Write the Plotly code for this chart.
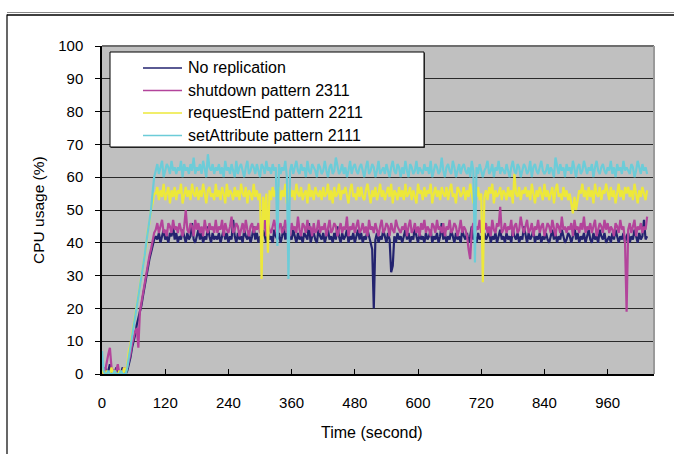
import plotly.graph_objects as go

# ---------------- data ----------------
TIME = list(range(0, 1038, 3))  # seconds, one sample every 3 s (346 samples)

SERIES_NAMES = ["No replication", "shutdown pattern 2311",
                "requestEnd pattern 2211", "setAttribute pattern 2111"]
SERIES_COLORS = ["#23236F", "#B3449B", "#EDE83A", "#6CCCD8"]

NO_REPLICATION = [
    1, 0, 2, 0, 1, 3, 0, 1, 0, 2, 0, 1, 0, 2, 1, 0,
    1, 3, 5, 8, 10, 12, 15, 17, 19, 21, 24, 27, 30, 33, 35, 37, 39, 41,
    42, 41, 43, 40, 42, 44, 41, 42, 40, 43, 42, 45, 41,
    43, 40, 42, 41, 44, 42, 40, 43, 41, 42, 46, 41, 40,
    42, 44, 41, 43, 40, 42, 41, 45, 42, 40, 43, 41, 42,
    41, 43, 40, 42, 44, 41, 43, 40, 42, 41, 47, 42, 40,
    43, 41, 42, 40, 44, 42, 41, 43, 40, 42, 45, 41, 43,
    40, 42, 41, 44, 42, 40, 43, 41, 42, 40, 44, 42, 41,
    43, 40, 42, 45, 41, 43, 40, 42, 41, 44, 42, 40, 43,
    41, 42, 40, 43, 42, 41, 46, 40, 42, 43, 41, 40, 44,
    42, 41, 43, 40, 42, 44, 41, 42, 40, 43, 41, 45, 42,
    40, 43, 41, 42, 44, 40, 42, 41, 43, 40, 42, 44, 41,
    43, 40, 42, 41, 44, 42, 40, 38, 20, 41, 43, 40, 42,
    41, 44, 42, 40, 43, 41, 31, 33, 42, 40, 43, 41, 42,
    40, 42, 44, 41, 43, 40, 42, 41, 45, 42, 40, 43, 41,
    42, 40, 43, 41, 42, 44, 40, 42, 41, 43, 40, 42, 46,
    41, 43, 40, 42, 41, 44, 42, 40, 43, 41, 42, 40, 44,
    42, 41, 43, 40, 42, 45, 41, 42, 40, 43, 41, 42, 40,
    43, 41, 42, 44, 40, 42, 41, 43, 40, 42, 44, 41, 42,
    40, 43, 41, 42, 40, 44, 42, 41, 43, 40, 42, 41, 45,
    42, 40, 43, 41, 42, 44, 40, 42, 41, 43, 40, 42, 41,
    43, 41, 40, 42, 44, 41, 43, 40, 42, 41, 44, 42, 40,
    41, 43, 42, 40, 42, 45, 41, 43, 40, 42, 41, 43, 40,
    42, 44, 41, 40, 43, 41, 42, 40, 44, 42, 41, 43, 40,
    41, 42, 40, 43, 41, 44, 42, 40, 42, 41, 43, 40, 42,
    43, 40, 42, 41, 44, 42, 40, 43, 41, 42, 47, 41, 42,
]

SHUTDOWN_2311 = [
    0, 2, 1, 4, 6, 8, 2, 1, 0, 1, 3, 0, 1, 0, 2, 1,
    2, 4, 6, 9, 11, 13, 14, 8, 19, 22, 24, 27, 31, 33, 36, 38, 41, 43,
    44, 46, 43, 45, 47, 43, 44, 42, 46, 45, 43, 47, 44,
    45, 43, 46, 44, 42, 45, 50, 44, 43, 46, 45, 42, 47,
    44, 46, 43, 45, 42, 47, 44, 43, 46, 44, 45, 43, 47,
    43, 45, 44, 47, 42, 46, 44, 43, 45, 48, 43, 44, 46,
    45, 42, 44, 46, 43, 47, 44, 42, 45, 46, 43, 45, 44,
    46, 43, 45, 44, 47, 42, 46, 44, 43, 45, 47, 44, 42,
    45, 46, 43, 44, 47, 43, 45, 42, 46, 44, 45, 43, 48,
    44, 42, 46, 45, 43, 47, 44, 45, 42, 46, 43, 44, 47,
    43, 45, 44, 46, 42, 45, 47, 43, 44, 46, 45, 42, 44,
    46, 43, 45, 44, 48, 42, 45, 44, 46, 43, 45, 47, 43,
    44, 46, 43, 45, 42, 47, 44, 45, 43, 46, 44, 42, 45,
    47, 43, 44, 46, 45, 42, 46, 44, 43, 47, 45, 44, 43,
    45, 44, 46, 42, 45, 47, 43, 44, 46, 43, 45, 42, 46,
    44, 47, 43, 45, 44, 42, 46, 45, 43, 47, 44, 45, 43,
    46, 42, 45, 44, 47, 43, 44, 46, 45, 42, 44, 47, 43,
    45, 44, 42, 38, 35, 44, 46, 43, 45, 44, 47, 43, 45,
    44, 46, 43, 45, 42, 47, 44, 43, 46, 45, 51, 43, 44,
    46, 43, 45, 44, 47, 42, 45, 46, 43, 44, 48, 45, 43,
    45, 47, 43, 44, 46, 42, 45, 44, 47, 43, 45, 46, 42,
    44, 46, 45, 43, 47, 44, 42, 46, 45, 43, 48, 44, 45,
    43, 45, 44, 46, 42, 47, 44, 45, 43, 46, 44, 48, 43,
    45, 44, 46, 43, 45, 47, 42, 44, 46, 45, 43, 47, 44,
    46, 43, 45, 44, 42, 46, 45, 43, 47, 44, 45, 40, 19,
    44, 46, 43, 45, 47, 42, 45, 44, 46, 43, 45, 44, 48,
]

REQUESTEND_2211 = [
    2, 0, 0, 1, 0, 0, 2, 0, 1, 0, 0, 1, 0, 0, 2, 0,
    3, 7, 9, 12, 16, 18, 22, 24, 27, 31, 33, 37, 39, 44, 46, 50, 52, 55,
    55, 57, 53, 56, 54, 58, 53, 55, 57, 52, 56, 54, 57,
    53, 56, 55, 58, 52, 55, 57, 54, 56, 53, 58, 55, 54,
    57, 53, 56, 54, 58, 55, 52, 56, 57, 54, 55, 53, 58,
    54, 56, 53, 57, 55, 52, 58, 54, 56, 55, 53, 57, 54,
    56, 53, 58, 55, 54, 57, 52, 56, 55, 53, 58, 54, 56,
    53, 55, 29, 54, 47, 55, 37, 56, 53, 57, 54, 56, 55,
    57, 53, 56, 54, 58, 52, 55, 57, 54, 56, 53, 58, 55,
    54, 57, 53, 55, 56, 52, 58, 54, 56, 53, 57, 55, 54,
    56, 53, 57, 54, 55, 58, 53, 56, 52, 57, 54, 55, 58,
    53, 56, 55, 57, 54, 52, 56, 58, 54, 55, 53, 57, 54,
    57, 54, 53, 56, 58, 55, 52, 56, 54, 57, 53, 55, 58,
    54, 56, 53, 55, 57, 54, 58, 52, 56, 55, 53, 57, 54,
    56, 53, 58, 54, 55, 57, 53, 56, 54, 52, 58, 55, 56,
    53, 57, 54, 56, 55, 58, 52, 55, 57, 54, 56, 53, 57,
    55, 54, 57, 53, 56, 58, 54, 55, 52, 57, 56, 54, 55,
    57, 53, 56, 54, 58, 55, 52, 56, 54, 57, 53, 55, 28,
    54, 56, 53, 57, 55, 58, 52, 56, 54, 55, 57, 53, 56,
    55, 53, 57, 54, 56, 52, 61, 55, 54, 57, 53, 56, 55,
    57, 54, 56, 53, 58, 55, 52, 56, 54, 57, 55, 53, 58,
    54, 56, 53, 55, 57, 52, 56, 58, 54, 55, 53, 57, 54,
    56, 53, 55, 52, 49, 54, 50, 53, 56, 55, 58, 54, 56,
    53, 57, 54, 56, 52, 58, 55, 54, 57, 53, 56, 55, 58,
    55, 53, 57, 54, 56, 52, 55, 58, 54, 56, 53, 57, 55,
    57, 54, 56, 53, 58, 55, 52, 56, 54, 57, 55, 53, 56,
]

SETATTRIBUTE_2111 = [
    7, 1, 0, 0, 1, 0, 0, 0, 1, 0, 0, 0, 1, 0, 0, 0,
    2, 5, 8, 12, 14, 18, 20, 24, 27, 29, 33, 36, 40, 43, 47, 50, 55, 60,
    62, 64, 61, 63, 65, 60, 62, 64, 63, 61, 65, 62, 63,
    61, 63, 62, 65, 60, 64, 62, 63, 61, 64, 62, 66, 61,
    63, 62, 64, 61, 65, 62, 60, 67, 63, 62, 64, 61, 63,
    62, 64, 61, 63, 60, 65, 62, 63, 61, 64, 62, 60, 65,
    61, 63, 64, 62, 60, 63, 65, 61, 62, 64, 63, 61, 64,
    62, 60, 64, 63, 61, 65, 62, 63, 61, 64, 62, 63, 39,
    64, 61, 63, 62, 65, 60, 29, 62, 64, 61, 63, 65, 62,
    61, 64, 62, 63, 60, 65, 62, 61, 64, 63, 62, 60, 64,
    63, 61, 62, 65, 62, 60, 63, 64, 61, 62, 66, 63, 61,
    62, 64, 61, 63, 60, 62, 65, 61, 63, 64, 62, 61, 63,
    64, 62, 60, 63, 65, 61, 62, 64, 63, 60, 62, 65, 61,
    62, 63, 61, 64, 62, 60, 63, 65, 62, 61, 64, 63, 60,
    63, 61, 65, 62, 60, 64, 63, 61, 62, 65, 61, 63, 62,
    61, 64, 62, 63, 61, 65, 60, 62, 64, 63, 61, 62, 66,
    62, 60, 63, 64, 62, 61, 65, 63, 60, 62, 64, 61, 63,
    64, 62, 61, 63, 60, 65, 62, 34, 63, 61, 64, 62, 60,
    62, 63, 65, 61, 62, 64, 60, 63, 62, 65, 61, 63, 62,
    61, 64, 62, 60, 63, 65, 62, 61, 64, 63, 60, 62, 64,
    63, 61, 62, 65, 60, 63, 64, 62, 61, 63, 65, 62, 61,
    62, 64, 61, 63, 62, 60, 66, 63, 61, 64, 62, 63, 60,
    64, 62, 63, 61, 65, 62, 60, 63, 64, 61, 62, 65, 63,
    61, 63, 62, 64, 60, 63, 65, 62, 61, 63, 64, 62, 61,
    63, 62, 65, 61, 63, 60, 64, 62, 63, 61, 65, 62, 63,
    62, 61, 64, 63, 60, 62, 65, 63, 61, 64, 62, 63, 61,
]

X_TICKS = [0, 120, 240, 360, 480, 600, 720, 840, 960]
Y_TICKS = [0, 10, 20, 30, 40, 50, 60, 70, 80, 90, 100]

ALL_SERIES = [NO_REPLICATION, SHUTDOWN_2311, REQUESTEND_2211, SETATTRIBUTE_2111]
for s in ALL_SERIES:
    if len(s) != len(TIME):
        raise ValueError(f"series length {len(s)} != {len(TIME)}")

# ---------------- figure ----------------
W, H = 674, 454
ML, MR, MT, MB = 102, 20, 46, 80
PW, PH = W - ML - MR, H - MT - MB


def px(x):
    return (x - ML) / PW


def py(y):
    return (MT + PH - y) / PH


FONT = "Liberation Sans, Arial, sans-serif"

fig = go.Figure()
for name, color, vals in zip(SERIES_NAMES, SERIES_COLORS, ALL_SERIES):
    fig.add_trace(go.Scatter(x=TIME, y=vals, mode="lines", name=name,
                             line=dict(color=color, width=2.2), showlegend=False))

shapes = []
# plot frame (top & right)
shapes.append(dict(type="line", xref="paper", yref="paper", x0=0, x1=1, y0=1, y1=1,
                   line=dict(color="#6E6E6E", width=2), layer="above"))
shapes.append(dict(type="line", xref="paper", yref="paper", x0=1, x1=1, y0=0, y1=1,
                   line=dict(color="#9A9A9A", width=2), layer="above"))
# outer chart border
shapes.append(dict(type="line", xref="paper", yref="paper", x0=px(7), x1=px(700), y0=py(12.5), y1=py(12.5),
                   line=dict(color="#8A8A8A", width=1)))
shapes.append(dict(type="line", xref="paper", yref="paper", x0=px(7), x1=px(700), y0=py(15), y1=py(15),
                   line=dict(color="#000000", width=1.6)))
shapes.append(dict(type="line", xref="paper", yref="paper", x0=px(7), x1=px(7), y0=py(14.5), y1=py(470),
                   line=dict(color="#000000", width=1.2)))
# legend box
shapes.append(dict(type="rect", xref="paper", yref="paper", x0=px(111), x1=px(425), y0=py(53), y1=py(148),
                   fillcolor="#404040", line=dict(width=0), layer="above"))
shapes.append(dict(type="rect", xref="paper", yref="paper", x0=px(110), x1=px(424), y0=py(52), y1=py(147),
                   fillcolor="white", line=dict(color="black", width=1), layer="above"))

annotations = []
ROWS = [68, 90.5, 113, 135.5]
for name, color, ry in zip(SERIES_NAMES, SERIES_COLORS, ROWS):
    shapes.append(dict(type="line", xref="paper", yref="paper", x0=px(143), x1=px(182), y0=py(ry), y1=py(ry),
                       line=dict(color=color, width=1.6), layer="above"))
    annotations.append(dict(text=name, xref="paper", yref="paper", x=px(186), y=py(ry),
                            xanchor="left", yanchor="middle", showarrow=False,
                            font=dict(family=FONT, size=16, color="black")))

annotations.append(dict(text="CPU usage (%)", xref="paper", yref="paper", x=px(38), y=py(210),
                        xanchor="center", yanchor="middle", textangle=-90, showarrow=False,
                        font=dict(family=FONT, size=15.5, color="black")))
annotations.append(dict(text="Time (second)", xref="paper", yref="paper", x=px(372), y=py(432),
                        xanchor="center", yanchor="middle", showarrow=False,
                        font=dict(family=FONT, size=16, color="black")))

fig.update_layout(
    width=W, height=H,
    margin=dict(l=ML, r=MR, t=MT, b=MB, pad=0),
    paper_bgcolor="white",
    plot_bgcolor="#C0C0C0",
    font=dict(family=FONT, size=15, color="black"),
    shapes=shapes,
    annotations=annotations,
    xaxis=dict(range=[0, 1048], tickvals=X_TICKS, ticktext=[str(v) for v in X_TICKS],
               showgrid=False, zeroline=False, showline=True, linecolor="black", linewidth=1.5,
               ticks="inside", ticklen=5, tickcolor="black", tickwidth=1.2,
               ticklabelstandoff=14, tickfont=dict(family=FONT, size=15)),
    yaxis=dict(range=[0, 100], tickvals=Y_TICKS, ticktext=[str(v) for v in Y_TICKS],
               showgrid=True, gridcolor="#2A2A2A", gridwidth=1, zeroline=False,
               showline=True, linecolor="black", linewidth=1.5,
               ticks="outside", ticklen=5, tickcolor="black", tickwidth=1.2,
               ticklabelstandoff=9, tickfont=dict(family=FONT, size=15)),
)

fig.write_html("out.html")
